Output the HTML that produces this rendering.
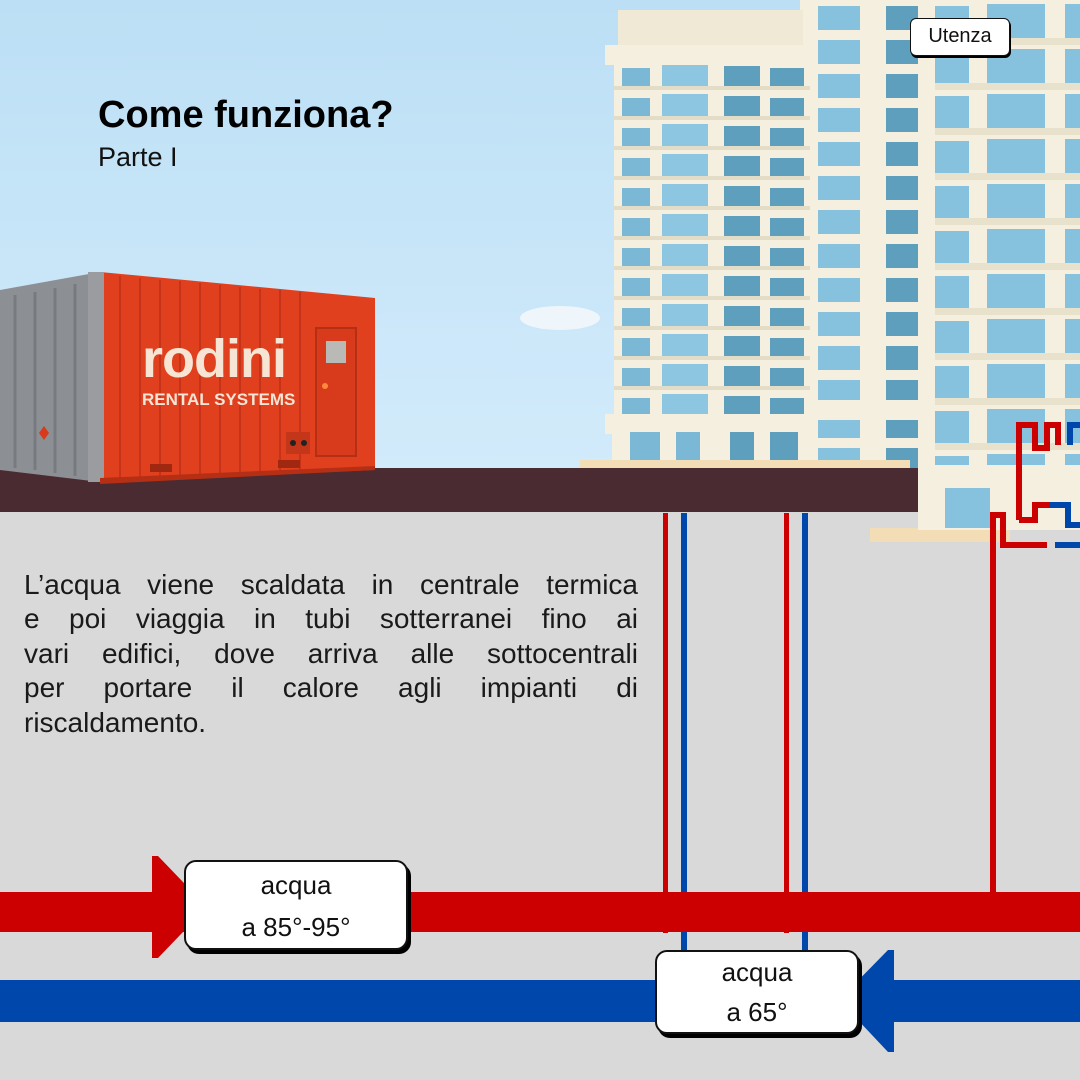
<!DOCTYPE html>
<html><head><meta charset="utf-8"><style>
body{margin:0;width:1080px;height:1080px;overflow:hidden;position:relative;font-family:"Liberation Sans","DejaVu Sans",sans-serif;background:#d9d9d9}
.abs{position:absolute}
.t{left:24px;top:568px;width:614px;font-size:28px;line-height:34.4px;color:#1a1a1a}
.t div{text-align:justify;text-align-last:justify;white-space:nowrap;height:34.4px}
.t div.l{text-align-last:left}
.lbl{background:#fff;border:2px solid #111;border-radius:12px;box-shadow:3px 4px 0 #000;text-align:center;font-size:26px;line-height:42px;color:#111;box-sizing:border-box}
</style></head><body>
<svg class="abs" style="left:0;top:0" width="1080" height="1080">
<defs>
<linearGradient id="sky" x1="0" y1="0" x2="0" y2="1"><stop offset="0" stop-color="#bcdff5"/><stop offset="1" stop-color="#d2ebfb"/></linearGradient>
<pattern id="winA" x="608" y="0" width="204" height="30" patternUnits="userSpaceOnUse">
<rect width="204" height="30" fill="#f4efdf"/>
<rect x="14" y="8" width="28" height="20" fill="#7ab8d6"/><rect x="54" y="4" width="46" height="22" fill="#8cc6e0"/>
<rect x="116" y="6" width="36" height="22" fill="#5e9fbd"/><rect x="162" y="8" width="34" height="22" fill="#5e9fbd"/>
<rect x="0" y="26" width="204" height="4" fill="#e3dcc6"/></pattern>
<pattern id="winB" x="800" y="0" width="135" height="34" patternUnits="userSpaceOnUse">
<rect width="135" height="34" fill="#f4efdf"/>
<rect x="18" y="6" width="42" height="24" fill="#86c2de"/><rect x="86" y="6" width="32" height="24" fill="#5e9fbd"/></pattern>
<pattern id="winC" x="925" y="0" width="155" height="45" patternUnits="userSpaceOnUse">
<rect width="155" height="45" fill="#f4efdf"/>
<rect x="8" y="6" width="36" height="32" fill="#86c2de"/><rect x="62" y="4" width="58" height="34" fill="#86c2de"/><rect x="140" y="4" width="15" height="34" fill="#86c2de"/>
<rect x="0" y="38" width="155" height="7" fill="#e8e1cc"/></pattern>
</defs>
<rect width="1080" height="470" fill="url(#sky)"/>
<ellipse cx="560" cy="318" rx="40" ry="12" fill="#eef6fb"/>
<rect x="925" y="0" width="155" height="530" fill="url(#winC)"/>
<rect x="910" y="465" width="170" height="20" fill="#f4efdf"/>
<rect x="800" y="0" width="135" height="470" fill="url(#winB)"/>
<rect x="800" y="400" width="135" height="20" fill="#f4efdf"/>
<rect x="614" y="55" width="196" height="360" fill="url(#winA)"/>
<rect x="605" y="45" width="210" height="20" fill="#f4efdf"/>
<rect x="618" y="10" width="185" height="35" fill="#efe9d6"/>
<rect x="605" y="414" width="212" height="20" fill="#f4efdf"/>
<rect x="612" y="432" width="200" height="34" fill="#f4efdf"/>
<rect x="630" y="432" width="30" height="32" fill="#7ab8d6"/><rect x="676" y="432" width="24" height="32" fill="#7ab8d6"/><rect x="730" y="432" width="24" height="32" fill="#5e9fbd"/><rect x="770" y="432" width="28" height="32" fill="#5e9fbd"/>
<rect x="580" y="460" width="330" height="10" fill="#f2ddb7"/>
<rect x="0" y="468" width="918" height="44" fill="#4a2b31"/>
<rect x="0" y="512" width="1080" height="568" fill="#d9d9d9"/>
<rect x="870" y="528" width="140" height="14" fill="#f2ddb7"/>
<rect x="918" y="485" width="162" height="45" fill="#f4efdf"/>
<rect x="945" y="488" width="45" height="40" fill="#86c2de"/>
<polygon points="0,290 100,272 100,482 0,470" fill="#8c8f93"/>
<g stroke="#777b80" stroke-width="3"><line x1="15" y1="295" x2="15" y2="468"/><line x1="35" y1="292" x2="35" y2="470"/><line x1="55" y1="288" x2="55" y2="473"/><line x1="75" y1="284" x2="75" y2="476"/></g>
<polygon points="100,272 375,298 375,470 100,482" fill="#e1401f"/>
<g stroke="#c5341a" stroke-width="2">
<line x1="120" y1="276" x2="120" y2="480"/><line x1="140" y1="278" x2="140" y2="480"/><line x1="160" y1="280" x2="160" y2="479"/><line x1="180" y1="281" x2="180" y2="478"/><line x1="200" y1="283" x2="200" y2="477"/><line x1="220" y1="285" x2="220" y2="477"/><line x1="240" y1="287" x2="240" y2="476"/><line x1="260" y1="289" x2="260" y2="475"/><line x1="280" y1="290" x2="280" y2="474"/><line x1="300" y1="292" x2="300" y2="473"/></g>
<rect x="88" y="272" width="16" height="210" fill="#9a9ca0"/>
<rect x="316" y="328" width="40" height="128" fill="#d83a1c" stroke="#b52f15" stroke-width="2"/>
<rect x="326" y="341" width="20" height="22" fill="#b9b9b5"/>
<circle cx="325" cy="386" r="3" fill="#ff8a3a"/>
<rect x="286" y="432" width="24" height="22" fill="#c3361a"/><circle cx="293" cy="443" r="3" fill="#222"/><circle cx="304" cy="443" r="3" fill="#222"/>
<polygon points="100,478 375,466 375,470 100,484" fill="#b52f15"/>
<rect x="150" y="464" width="22" height="8" fill="#a02810"/><rect x="278" y="460" width="22" height="8" fill="#a02810"/>
<polygon points="44,426 49,433 44,440 39,433" fill="#d83a1c"/>
<g fill="#cc0000"><rect x="663" y="513" width="5" height="420"/><rect x="784" y="513" width="5" height="420"/><rect x="990" y="540" width="6" height="390"/></g>
<g fill="#0047ab"><rect x="681" y="513" width="6" height="440"/><rect x="802" y="513" width="6" height="440"/></g>
<path d="M1019 520 V425 H1035 V448 H1047 V425 H1058 V445" fill="none" stroke="#cc0000" stroke-width="6"/>
<path d="M1070 445 V425 H1080" fill="none" stroke="#0047ab" stroke-width="6"/>
<path d="M993 540 V515 H1003 V545 H1047" fill="none" stroke="#cc0000" stroke-width="6"/>
<path d="M1019 520 H1035 V505 H1050" fill="none" stroke="#cc0000" stroke-width="6"/>
<path d="M1050 505 H1068 V525 H1080" fill="none" stroke="#0047ab" stroke-width="6"/>
<path d="M1055 545 H1080" fill="none" stroke="#0047ab" stroke-width="6"/>
<rect x="0" y="892" width="1080" height="40" fill="#cc0000"/>
<rect x="0" y="980" width="1080" height="42" fill="#0047ab"/>
<polygon points="152,856 158,856 207,907 158,958 152,958" fill="#cc0000"/>
<polygon points="888,950 894,950 894,1052 888,1052 839,1000" fill="#0047ab"/>
</svg>
<div class="abs" style="left:98px;top:94px;font-size:38px;font-weight:bold;color:#000">Come funziona?</div>
<div class="abs" style="left:98px;top:142px;font-size:27px;color:#111">Parte I</div>
<div class="abs" style="left:142px;top:328px;font-size:54px;font-weight:bold;color:#f6e4d4;letter-spacing:-1px">rodini</div>
<div class="abs" style="left:142px;top:390px;font-size:17px;font-weight:bold;color:#f6e4d4">RENTAL SYSTEMS</div>
<div class="abs lbl" style="left:910px;top:18px;width:100px;height:38px;font-size:20px;line-height:34px;border-radius:6px;border-width:1px;box-shadow:1px 2px 0 #000">Utenza</div>
<div class="abs t">
<div>L’acqua viene scaldata in centrale termica</div>
<div>e poi viaggia in tubi sotterranei fino ai</div>
<div>vari edifici, dove arriva alle sottocentrali</div>
<div>per portare il calore agli impianti di</div>
<div class="l">riscaldamento.</div>
</div>
<div class="abs lbl" style="left:184px;top:860px;width:224px;height:90px;padding-top:2px">acqua<br>a 85°-95°</div>
<div class="abs lbl" style="left:655px;top:950px;width:204px;height:84px;line-height:40px;padding-top:0">acqua<br>a 65°</div>
</body></html>
